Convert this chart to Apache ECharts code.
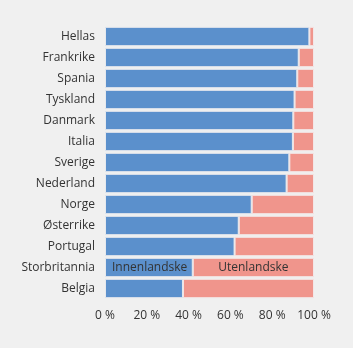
<!DOCTYPE html>
<html>
<head>
<meta charset="utf-8">
<script src="https://cdn.jsdelivr.net/npm/echarts@6/dist/echarts.min.js"></script>
<style>
  html, body { margin: 0; padding: 0; background: #f0f0f0; }
  #chart { width: 353px; height: 348px; }
</style>
</head>
<body>
<div id="chart"></div>
<script>
// Countries, listed top to bottom
const countries = ['Hellas', 'Frankrike', 'Spania', 'Tyskland', 'Danmark', 'Italia', 'Sverige',
  'Nederland', 'Norge', 'Østerrike', 'Portugal', 'Storbritannia', 'Belgia'];
// Share of domestic guest nights (per cent)
const innenlandske = [97.8, 92.7, 92.0, 90.7, 90.1, 89.9, 88.2, 86.9, 70.2, 64.0, 62.0, 42.0, 37.3];
// Share of foreign guest nights (per cent)
const utenlandske = innenlandske.map(v => +(100 - v).toFixed(1));
const xTicks = [0, 20, 40, 60, 80, 100];

const labelRow = 'Storbritannia';
const fontFamily = '"Open Sans", sans-serif';

const chart = echarts.init(document.getElementById('chart'), null, { renderer: 'canvas' });

function seriesData(values, name) {
  return values.map((v, i) => ({
    value: v,
    label: {
      show: countries[i] === labelRow,
      formatter: name
    }
  }));
}

chart.setOption({
  backgroundColor: '#f0f0f0',
  animation: false,
  grid: { left: 105, right: 39, top: 26, bottom: 49 },
  xAxis: {
    type: 'value',
    min: 0,
    max: 100,
    interval: 20,
    axisLine: { show: false },
    axisTick: { show: false },
    splitLine: { show: false },
    axisLabel: {
      color: '#333',
      fontSize: 12,
      fontFamily: fontFamily,
      margin: 11,
      formatter: v => xTicks.includes(v) ? v + ' %' : ''
    }
  },
  yAxis: {
    type: 'category',
    data: countries,
    inverse: true,
    axisLine: { show: false },
    axisTick: { show: false },
    axisLabel: { color: '#333', fontSize: 12, fontFamily: fontFamily, margin: 10 }
  },
  series: [
    {
      name: 'Innenlandske',
      type: 'bar',
      stack: 'andel',
      barCategoryGap: '8%',
      data: seriesData(innenlandske, 'Innenlandske'),
      itemStyle: { color: '#5b90cc', borderColor: '#e6e9ee', borderWidth: 1 },
      label: { position: 'insideLeft', color: '#333', fontSize: 12, fontFamily: fontFamily, offset: [2, 0] }
    },
    {
      name: 'Utenlandske',
      type: 'bar',
      stack: 'andel',
      data: seriesData(utenlandske, 'Utenlandske'),
      itemStyle: { color: '#f0958c', borderColor: '#f3e6e6', borderWidth: 1 },
      label: { position: 'inside', color: '#333', fontSize: 12, fontFamily: fontFamily }
    }
  ]
});
</script>
</body>
</html>
